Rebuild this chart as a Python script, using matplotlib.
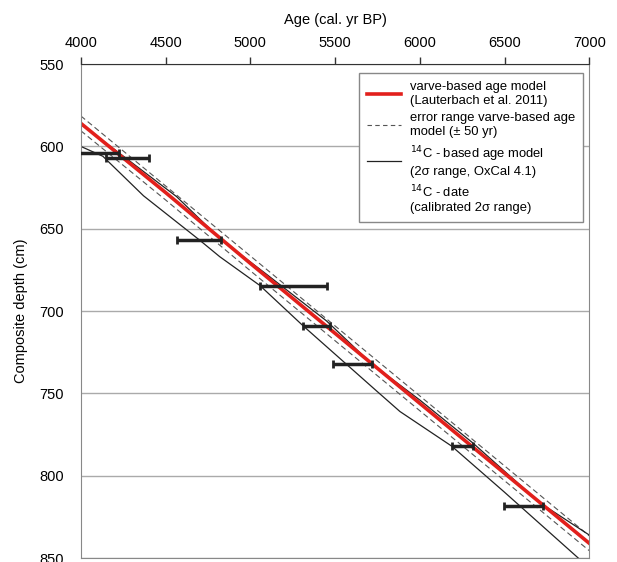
import matplotlib.pyplot as plt
from matplotlib.lines import Line2D

plt.rcParams['font.family'] = ['Liberation Sans', 'DejaVu Sans']

# varve-based age model
varve_age = [4000, 4500, 5000, 5500, 6000, 6500, 7000]
varve_depth = [586, 628, 671, 713.5, 756, 798.5, 841]
# +-50 yr error range (depth at same ages)
err_old_depth = [581.5, 624, 666.5, 709, 751.5, 794, 836.5]
err_young_depth = [590.5, 632.5, 675.5, 718, 760.5, 803, 845.5]

# 14C based age model, 2 sigma envelope
c14_old_age = [4000, 4226, 4565, 4826, 5100, 5450, 5716, 6000, 6312, 6710, 7000]
c14_old_depth = [586.5, 604, 630.5, 656.5, 678, 706, 732, 754, 780, 816.5, 836]
c14_young_age = [4000, 4130, 4370, 4702, 4820, 5057, 5312, 5745, 5883, 6188, 6500, 6930, 7000]
c14_young_depth = [600, 606, 630, 657, 667, 684.5, 709, 748.5, 761, 782, 810, 849.5, 856]

# calibrated 14C dates (2 sigma range)
date_depth = [604, 607, 657, 684.7, 708.8, 732, 782.2, 818.6]
date_min = [3950, 4150, 4565, 5057, 5312, 5486, 6188, 6499]
date_max = [4226, 4405, 4826, 5450, 5470, 5716, 6312, 6725]

fig = plt.figure(figsize=(6.17, 5.62), dpi=100)
ax = fig.add_axes([0.131, 0.007, 0.824, 0.879])

ax.plot(varve_age, err_old_depth, color='#555555', lw=0.8, ls=(0, (5, 3)))
ax.plot(varve_age, err_young_depth, color='#555555', lw=0.8, ls=(0, (5, 3)))
ax.plot(c14_old_age, c14_old_depth, color='#222222', lw=0.9)
ax.plot(c14_young_age, c14_young_depth, color='#222222', lw=0.9)
ax.plot(varve_age, varve_depth, color='#e2201c', lw=2.6)

mid = [(a + b) / 2 for a, b in zip(date_min, date_max)]
half = [(b - a) / 2 for a, b in zip(date_min, date_max)]
ax.errorbar(mid, date_depth, xerr=half, fmt='none', ecolor='#222222',
            elinewidth=2.5, capsize=3, capthick=2, zorder=5)

ax.set_xlim(4000, 7000)
ax.set_ylim(850, 550)
ax.set_xticks([4000, 4500, 5000, 5500, 6000, 6500, 7000])
ax.set_yticks([550, 600, 650, 700, 750, 800, 850])
ax.xaxis.tick_top()
ax.xaxis.set_label_position('top')
ax.tick_params(axis='x', length=5, width=1, color='#333333', labelsize=10.5, pad=5)
ax.tick_params(axis='y', length=0, labelsize=10.5, pad=12)
ax.set_xlabel('Age (cal. yr BP)', fontsize=10.5, labelpad=9)
ax.set_ylabel('Composite depth (cm)', fontsize=10.5, labelpad=8)
ax.grid(axis='y', color='#aaaaaa', lw=1)
ax.set_axisbelow(True)
for s in ['left', 'right', 'bottom']:
    ax.spines[s].set_color('#888888')
ax.spines['top'].set_color('#333333')

handles = [
    Line2D([], [], color='#e2201c', lw=2.6),
    Line2D([], [], color='#555555', lw=0.8, ls=(0, (4, 3))),
    Line2D([], [], color='#222222', lw=0.9),
    Line2D([], [], color='none'),
]
labels = [
    'varve-based age model\n(Lauterbach et al. 2011)',
    'error range varve-based age\nmodel (± 50 yr)',
    '$^{14}$C - based age model\n(2σ range, OxCal 4.1)',
    '$^{14}$C - date\n(calibrated 2σ range)',
]
leg = ax.legend(handles, labels, loc='upper right', bbox_to_anchor=(0.988, 0.982),
                borderaxespad=0, fontsize=9.4, fancybox=False, framealpha=1,
                edgecolor='#888888', handlelength=2.6, handletextpad=0.7,
                labelspacing=0.45, borderpad=0.6)
leg.get_frame().set_linewidth(1)

plt.savefig('out.png', dpi=100)
